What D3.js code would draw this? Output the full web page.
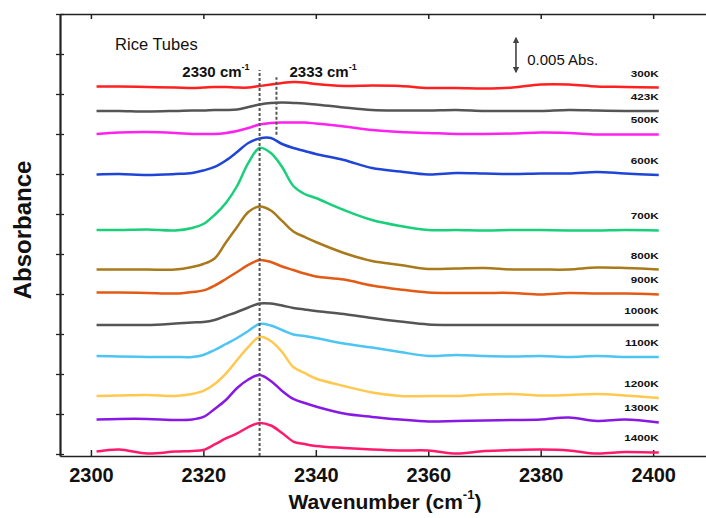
<!DOCTYPE html>
<html><head><meta charset="utf-8">
<script src="https://cdn.jsdelivr.net/npm/d3@7"></script>
<style>
body{margin:0;background:#fff}
svg{display:block}
text{font-family:"Liberation Sans",Arial,Helvetica,sans-serif;fill:#111}
</style>
</head><body>
<svg id="chart" width="706" height="518"></svg>
<script>
// ---- data (absorbance in mAbs, stacked offsets included) ----
const wavenumbers = [2301,2305,2310,2315,2318,2320,2322,2324,2326,2328,2330,2332,2334,2336,2338,2340,2345,2350,2355,2360,2365,2370,2375,2380,2385,2390,2395,2401];
const temperatures = ["300K","423K","500K","600K","700K","800K","900K","1000K","1100K","1200K","1300K","1400K"];
const abs300  = [45.94,45.94,45.88,45.81,45.75,45.81,45.88,45.88,45.81,45.81,46.00,46.19,46.38,46.50,46.44,46.25,46.00,46.06,46.00,45.75,45.75,45.69,45.81,46.19,46.19,45.94,45.88,45.81];
const abs423  = [42.88,42.88,42.81,42.88,42.94,42.94,43.00,43.00,43.06,43.38,43.69,43.88,43.94,43.88,43.81,43.69,43.31,43.00,42.94,42.94,43.00,42.88,42.88,42.88,43.00,42.94,42.88,42.88];
const abs500  = [40.00,40.19,40.25,40.13,40.00,40.00,40.00,40.13,40.38,40.75,41.19,41.38,41.44,41.44,41.44,41.31,40.94,40.50,40.25,40.13,40.00,40.00,40.06,40.19,40.13,39.94,39.94,39.94];
const abs600  = [34.94,35.00,34.88,35.00,35.13,35.44,35.88,36.69,37.75,38.88,39.44,39.50,38.75,38.25,37.88,37.50,36.75,35.75,35.31,34.94,35.13,35.06,35.00,35.06,35.06,35.25,35.06,34.88];
const abs700  = [28.00,28.00,28.06,27.94,28.25,28.75,29.88,31.38,33.50,36.38,38.25,37.63,35.88,33.50,32.50,32.00,30.50,29.25,28.50,28.00,28.00,27.94,28.00,28.00,27.94,27.94,28.00,27.94];
const abs800  = [23.06,23.06,23.06,23.06,23.38,23.75,24.44,26.44,28.38,30.25,30.94,30.44,29.13,27.81,27.13,26.50,25.13,24.13,23.63,23.13,23.19,23.25,23.06,23.06,23.06,23.31,23.25,23.06];
const abs900  = [20.19,20.19,20.13,20.06,20.25,20.45,21.06,21.88,22.75,23.63,24.25,24.00,23.44,23.00,22.56,22.19,21.81,21.06,20.56,20.19,20.13,20.13,20.13,19.94,20.13,20.06,20.06,19.94];
const abs1000 = [16.13,16.13,16.13,16.31,16.44,16.50,16.75,17.25,17.75,18.31,18.81,18.81,18.56,18.25,18.06,17.88,17.50,17.00,16.56,16.19,16.13,16.13,16.13,16.13,16.13,16.13,16.13,16.13];
const abs1100 = [12.25,12.19,12.13,12.13,12.13,12.38,13.00,13.75,14.50,15.38,16.25,16.06,15.50,14.94,14.75,14.50,13.81,13.31,12.75,12.25,12.38,12.25,12.19,12.25,12.13,12.25,12.13,12.13];
const abs1200 = [7.25,7.31,7.38,7.25,7.50,7.88,8.75,10.06,11.75,13.38,14.63,14.13,12.75,10.88,10.13,9.44,8.50,7.69,7.25,7.25,7.25,7.44,7.50,7.31,7.38,7.50,7.31,7.00];
const abs1300 = [4.31,4.38,4.38,4.25,4.31,4.63,5.63,6.75,8.25,9.31,9.88,9.13,7.88,6.88,6.38,5.94,5.06,4.63,4.31,4.06,4.13,4.19,4.25,4.31,4.56,4.13,4.31,3.94];
const abs1400 = [0.31,0.56,0.06,0.31,0.38,0.50,1.19,1.94,2.57,3.37,3.88,3.56,2.63,1.56,1.25,1.00,0.75,0.56,0.44,0.44,0.06,0.38,0.50,0.56,0.44,0.06,0.25,0.19];
const spectra = [abs300,abs423,abs500,abs600,abs700,abs800,abs900,abs1000,abs1100,abs1200,abs1300,abs1400];
const xTicks = [2300,2320,2340,2360,2380,2400];
const yTicks = [0,5,10,15,20,25,30,35,40,45,50,55];
const peakWavenumbers = [2330,2333];
const peakLines = [[-0.25,48.0],[39.9,47.1]];
const scaleBarRange = [47.75,52.0];
const scaleBarLabel = "0.005 Abs.";
const title = "Rice Tubes";

// ---- styles ----
const colors = ["#ff2020","#555555","#ff22ee","#1f45d8","#18d07a","#a97a1c","#e25a14","#555555","#4cc4f4","#ffc84e","#8818e4","#ff1a6c"];

const svg = d3.select("#chart");
const x = d3.scaleLinear().domain([2294.5,2409.4]).range([60,706]);
const y = d3.scaleLinear().domain([-0.25,55]).range([456,14]);

// axes
const gB = svg.append("g").attr("transform","translate(0,456)")
  .call(d3.axisBottom(x).tickValues(xTicks).tickFormat(d3.format("d")).tickSizeInner(-6).tickSizeOuter(0).tickPadding(12));
gB.select(".domain").attr("stroke","#222").attr("stroke-width",1.5);
gB.selectAll(".tick line").attr("stroke","#222").attr("stroke-width",1.5);
gB.selectAll(".tick text").attr("font-size",20).attr("font-weight","bold")
  .attr("font-family","'Liberation Sans',Arial,sans-serif").attr("fill","#111");

const gT = svg.append("g").attr("transform","translate(0,14)")
  .call(d3.axisTop(x).tickValues(xTicks).tickSizeInner(-5).tickSizeOuter(0).tickFormat(""));
gT.select(".domain").attr("stroke","#222").attr("stroke-width",1.5);
gT.selectAll(".tick line").attr("stroke","#222").attr("stroke-width",1.5);

const gL = svg.append("g").attr("transform","translate(60,0)")
  .call(d3.axisLeft(y).tickValues(yTicks).tickSizeInner(4).tickSizeOuter(0).tickFormat(""));
gL.select(".domain").attr("stroke","#222").attr("stroke-width",2.2);
gL.selectAll(".tick line").attr("stroke","#222").attr("stroke-width",1.3);
gL.selectAll(".tick").append("line").attr("x1",0).attr("x2",4).attr("stroke","#222").attr("stroke-width",1.3);

// spectra
const line = d3.line().x(d=>x(d[0])).y(d=>y(d[1])).curve(d3.curveCatmullRom.alpha(0.5));
spectra.forEach((vals,i)=>{
  svg.append("path").datum(wavenumbers.map((w,j)=>[w,vals[j]]))
    .attr("d",line).attr("fill","none").attr("stroke",colors[i])
    .attr("stroke-width",2.5).attr("stroke-linejoin","round");
  const last = wavenumbers.length-1;
  svg.append("text")
    .attr("transform",`translate(${x(wavenumbers[last])},${y(vals[last])-11}) scale(1.3,1)`)
    .attr("text-anchor","end").attr("font-size",9).attr("font-weight","bold")
    .text(temperatures[i]);
});

// peak marker lines
peakWavenumbers.forEach((w,i)=>{
  svg.append("line").attr("x1",x(w)).attr("x2",x(w))
    .attr("y1",y(peakLines[i][0])).attr("y2",y(peakLines[i][1]))
    .attr("stroke","#555").attr("stroke-width",2).attr("stroke-dasharray","3,2");
});

// peak labels
function peakLabel(w, anchor, dx){
  const t = svg.append("text").attr("x",x(w)+dx).attr("y",y(47.1))
    .attr("text-anchor",anchor).attr("font-size",15).attr("font-weight","bold");
  t.append("tspan").text(w+" cm");
  t.append("tspan").attr("font-size",9).attr("dy",-7).text("-1");
}
peakLabel(peakWavenumbers[0],"end",-10);
peakLabel(peakWavenumbers[1],"start",13);

// title
svg.append("text").attr("x",x(2304.3)).attr("y",y(50.5)).attr("font-size",16.5).text(title);

// scale bar
const ax = x(2375.6);
const defs = svg.append("defs");
defs.append("marker").attr("id","ah").attr("viewBox","0 0 10 10").attr("refX",8).attr("refY",5)
  .attr("markerWidth",4).attr("markerHeight",4).attr("orient","auto-start-reverse")
  .append("path").attr("d","M0,0L10,5L0,10z").attr("fill","#444");
svg.append("line").attr("x1",ax).attr("x2",ax).attr("y1",y(scaleBarRange[0])).attr("y2",y(scaleBarRange[1]))
  .attr("stroke","#444").attr("stroke-width",1.6)
  .attr("marker-start","url(#ah)").attr("marker-end","url(#ah)");
svg.append("text").attr("x",x(2377.6)).attr("y",y(48.6)).attr("font-size",15).text(scaleBarLabel);

// axis titles
const xt = svg.append("text").attr("x",385).attr("y",509).attr("text-anchor","middle")
  .attr("font-size",21).attr("font-weight","bold");
xt.append("tspan").text("Wavenumber (cm");
xt.append("tspan").attr("font-size",13).attr("dy",-10).text("-1");
xt.append("tspan").attr("dy",10).text(")");

svg.append("text").attr("transform","translate(31,230) rotate(-90)").attr("text-anchor","middle")
  .attr("font-size",24).attr("font-weight","bold").text("Absorbance");
</script>
</body></html>
